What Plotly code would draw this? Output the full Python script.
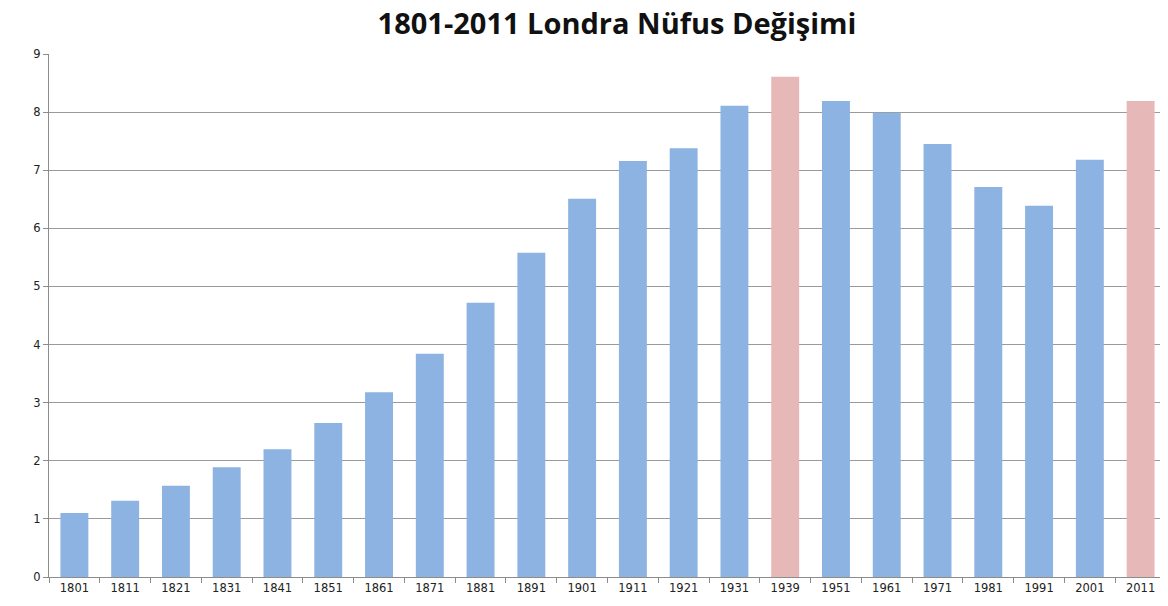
import plotly.graph_objects as go

years = ["1801", "1811", "1821", "1831", "1841", "1851", "1861", "1871", "1881", "1891", "1901",
         "1911", "1921", "1931", "1939", "1951", "1961", "1971", "1981", "1991", "2001", "2011"]
population = [1.10, 1.31, 1.57, 1.89, 2.20, 2.65, 3.18, 3.84, 4.72, 5.58, 6.51,
              7.16, 7.38, 8.11, 8.61, 8.19, 7.99, 7.45, 6.71, 6.39, 7.18, 8.19]
highlight_years = ["1939", "2011"]

blue = "#8db3e2"
pink = "#e6b9b8"
colors = [pink if y in highlight_years else blue for y in years]

fig = go.Figure(go.Bar(x=years, y=population, marker=dict(color=colors, line=dict(width=0)),
                       width=0.55))

# page body has an 8px margin, so the figure is 8px smaller and margins shifted
fig.update_layout(
    width=1160, height=598,
    paper_bgcolor="white", plot_bgcolor="white",
    margin=dict(l=41, r=2, t=46, b=29),
    title=dict(text="<b>1801-2011 Londra Nüfus Değişimi</b>", x=0.525, xanchor="center",
               y=0.974, yanchor="middle",
               font=dict(family="Open Sans", size=29, color="#111111")),
    showlegend=False,
    bargap=0.45,
)
fig.update_xaxes(type="category", showline=True, linecolor="#8c8c8c", linewidth=1,
                 ticks="outside", tickson="boundaries", ticklen=5, tickcolor="#8c8c8c",
                 tickfont=dict(family="DejaVu Sans", size=11.5, color="#222222"),
                 showgrid=False)
fig.update_yaxes(range=[0, 9], dtick=1, showline=True, linecolor="#8c8c8c", linewidth=1,
                 ticks="outside", ticklen=5, tickcolor="#8c8c8c",
                 showgrid=True, gridcolor="#9a9a9a", gridwidth=1, zeroline=False,
                 tickfont=dict(family="DejaVu Sans", size=11.5, color="#222222"))

fig.write_html("out.html")
